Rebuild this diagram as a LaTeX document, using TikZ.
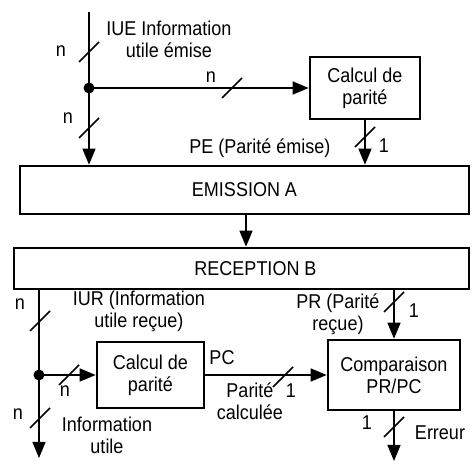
\documentclass[tikz,border=0pt]{standalone}
\usepackage{fontspec}
\setmainfont{Liberation Sans}[FakeStretch=0.9]
\usetikzlibrary{arrows.meta}

\tikzset{
  bloc/.style={draw, line width=2.6pt, align=center, inner sep=0pt},
  lien/.style={line width=1.4pt},
  fleche/.style={lien, -{Triangle[length=16pt,width=13pt]}},
  txt/.style={align=center, inner sep=0pt},
  bus/.pic={\draw[line width=1.7pt] (-10,10) -- (10,-10);}
}

\begin{document}
\begin{tikzpicture}[x=1pt,y=-1pt,font=\fontsize{20}{22}\selectfont]
		\useasboundingbox (0,0) rectangle (472,465);
		
		% Blocks
		\node[bloc, minimum width=449pt, minimum height=48pt] (emA) at (244.5,190) {EMISSION A};
		\node[bloc, minimum width=455pt, minimum height=41pt] (recB) at (241.5,268.5) {\hspace*{28pt}RECEPTION B};
		\node[bloc, minimum width=110pt, minimum height=62pt] (cp1) at (365,88) {Calcul de\\parité};
		\node[bloc, minimum width=107pt, minimum height=66pt] (cp2) at (150.5,375) {Calcul de\\parité};
		\node[bloc, minimum width=132pt, minimum height=70pt] (cmp) at (394,375) {Comparaison\\PR/PC};
		
		% Emission side
		\coordinate (iue) at (89,12);
		\coordinate (d1) at (89,88);
		\draw[lien] (iue) -- (d1);
		\draw[fleche] (d1) -- (d1 |- emA.north);
		\draw[fleche] (d1) -- (cp1.west);
		\draw[fleche] (cp1.south) -- (cp1.south |- emA.north);
		\fill (d1) circle (5.5);
		
		% Channel
		\coordinate (ch) at (246,0);
		\draw[fleche] (emA.south -| ch) -- (recB.north -| ch);
		
		% Reception side
		\coordinate (d2) at (39,375);
		\coordinate (iu) at (39,458);
		\coordinate (err) at (394,461);
		\draw[lien] (recB.south -| d2) -- (d2);
		\draw[fleche] (d2) -- (iu);
		\draw[fleche] (d2) -- (cp2.west);
		\draw[fleche] (cp2.east) -- (cmp.west);
		\draw[fleche] (recB.south -| cmp.north) -- (cmp.north);
		\draw[fleche] (cmp.south) -- (err);
		\fill (d2) circle (5.5);
		
		% Bus widths
		\pic at (89,52) {bus};
		\pic at (89,128) {bus};
		\pic at (232,88) {bus};
		\pic at (365,137) {bus};
		\pic at (40,321) {bus};
		\pic at (40,418) {bus};
		\pic at (69,375) {bus};
		\pic at (283,377) {bus};
		\pic at (394,302) {bus};
		\pic at (394,427) {bus};
		
		% Labels
		\node[txt] (lIUE) at (169,39) {IUE Information\\utile émise};
		\node[txt] (n1) at (61,51) {n};
		\node[txt] (n2) at (68,118) {n};
		\node[txt] (n3) at (211,77) {n};
		\node[txt] (lPE) at (260,148) {PE (Parité émise)};
		\node[txt] (u1) at (384,146) {1};
		\node[txt] (lIUR) at (139,311) {IUR (Information\\utile reçue)};
		\node[txt] (n4) at (20,304) {n};
		\node[txt] (n5) at (18,414) {n};
		\node[txt] (n6) at (65,391) {n};
		\node[txt] (lIU) at (107,435) {Information\\utile};
		\node[txt] (lPC) at (222,358) {PC};
		\node[txt] (lPCc) at (250,401) {Parité\\calculée};
		\node[txt] (u2) at (291,391) {1};
		\node[txt] (lPR) at (338,314) {PR (Parité\\reçue)};
		\node[txt] (u3) at (414,311) {1};
		\node[txt] (u4) at (367,423) {1};
		\node[txt] (lErr) at (440,433) {Erreur};
	\end{tikzpicture}
\end{document}
